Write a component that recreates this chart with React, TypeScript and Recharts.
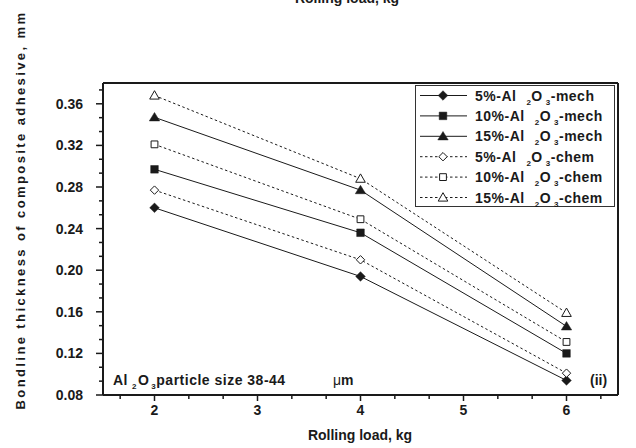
import React from "react";
import {
  LineChart,
  Line,
  XAxis,
  YAxis,
  Legend,
  ReferenceLine,
  Customized,
} from "recharts";

const FONT = "'Liberation Sans', Arial, sans-serif";
const INK = "#1a1a1a";

// rolling load (kg)
const loads = [2, 4, 6];

// bondline thickness (mm)
const mech5 = [0.26, 0.194, 0.094];
const mech10 = [0.297, 0.236, 0.12];
const mech15 = [0.347, 0.277, 0.146];
const chem5 = [0.277, 0.21, 0.101];
const chem10 = [0.321, 0.249, 0.131];
const chem15 = [0.368, 0.288, 0.159];

const xMajor = [2, 3, 4, 5, 6];
const yMajor = [0.08, 0.12, 0.16, 0.2, 0.24, 0.28, 0.32, 0.36];

// minor ticks split each major step in three
const xTicks = [1 + 2 / 3, ...xMajor.flatMap((v) => [v, v + 1 / 3, v + 2 / 3])].filter(
  (v) => v < 6.5,
);
const yTicks = yMajor.flatMap((v) => [v, v + 0.04 / 3, v + 0.08 / 3]).filter((v) => v < 0.38);

const data = loads.map((load, i) => ({
  load,
  m5: mech5[i],
  m10: mech10[i],
  m15: mech15[i],
  c5: chem5[i],
  c10: chem10[i],
  c15: chem15[i],
}));

type Shape = "diamond" | "square" | "triangle";

const SERIES: { key: string; pct: string; kind: string; shape: Shape; filled: boolean }[] = [
  { key: "m5", pct: "5%", kind: "mech", shape: "diamond", filled: true },
  { key: "m10", pct: "10%", kind: "mech", shape: "square", filled: true },
  { key: "m15", pct: "15%", kind: "mech", shape: "triangle", filled: true },
  { key: "c5", pct: "5%", kind: "chem", shape: "diamond", filled: false },
  { key: "c10", pct: "10%", kind: "chem", shape: "square", filled: false },
  { key: "c15", pct: "15%", kind: "chem", shape: "triangle", filled: false },
];

function markerPath(shape: Shape, cx: number, cy: number, filled: boolean) {
  if (shape === "diamond") {
    const r = filled ? 4.8 : 4.2;
    return `M${cx},${cy - r}L${cx + r},${cy}L${cx},${cy + r}L${cx - r},${cy}Z`;
  }
  if (shape === "square") {
    const r = filled ? 3.8 : 3.4;
    return `M${cx - r},${cy - r}H${cx + r}V${cy + r}H${cx - r}Z`;
  }
  const w = filled ? 5.2 : 4.8;
  return `M${cx},${cy - 4.8}L${cx + w},${cy + 3.6}L${cx - w},${cy + 3.6}Z`;
}

function Marker({ shape, filled, cx, cy }: { shape: Shape; filled: boolean; cx: number; cy: number }) {
  return (
    <path
      d={markerPath(shape, cx, cy, filled)}
      fill={filled ? INK : "#fff"}
      stroke={INK}
      strokeWidth={filled ? 0.5 : 1}
    />
  );
}

function XTick({ x, y, payload }: any) {
  const v = payload.value;
  const major = Math.abs(v - Math.round(v)) < 1e-6;
  return (
    <g>
      <line x1={x} x2={x} y1={y} y2={y + (major ? 6 : 4)} stroke={INK} strokeWidth={1.5} />
      {major && (
        <text x={x} y={y + 20} textAnchor="middle" fontFamily={FONT} fontWeight="bold" fontSize={14} fill={INK}>
          {Math.round(v)}
        </text>
      )}
    </g>
  );
}

function YTick({ x, y, payload }: any) {
  const v = payload.value;
  const major = yMajor.some((m) => Math.abs(m - v) < 1e-6);
  return (
    <g>
      <line x1={x - (major ? 7 : 4)} x2={x} y1={y} y2={y} stroke={INK} strokeWidth={1.5} />
      {major && (
        <text x={x - 20} y={y + 5} textAnchor="end" fontFamily={FONT} fontWeight="bold" fontSize={14} fill={INK}>
          {v.toFixed(2)}
        </text>
      )}
    </g>
  );
}

function Formula({ pct, kind }: { pct: string; kind: string }) {
  return (
    <>
      <tspan>{pct}-Al</tspan>
      <tspan dx={10} dy={4} fontSize={8}>2</tspan>
      <tspan dy={-4}>O</tspan>
      <tspan dx={3} dy={4} fontSize={8}>3</tspan>
      <tspan dy={-4}>-{kind}</tspan>
    </>
  );
}

function LegendBox() {
  return (
    <svg width={200} height={122} style={{ display: "block" }}>
      <rect x={0.5} y={0.5} width={199} height={121} fill="#fff" stroke="#333" strokeWidth={1} />
      {SERIES.map((s, i) => {
        const cy = 10.5 + i * 20.4;
        return (
          <g key={s.key}>
            <line
              x1={5}
              x2={52}
              y1={cy}
              y2={cy}
              stroke={INK}
              strokeWidth={1}
              strokeDasharray={s.filled ? undefined : "2.5 2.5"}
            />
            <Marker shape={s.shape} filled={s.filled} cx={28} cy={cy} />
            <text
              x={60}
              y={cy + 5}
              fontFamily={FONT}
              fontWeight="bold"
              fontSize={14}
              letterSpacing={0.5}
              fill={INK}
            >
              <Formula pct={s.pct} kind={s.kind} />
            </text>
          </g>
        );
      })}
    </svg>
  );
}

function Annotations() {
  return (
    <g fontFamily={FONT} fontWeight="bold" fill={INK}>
      <text x={347} y={2.5} textAnchor="middle" fontSize={14}>
        Rolling load, kg
      </text>
      <text x={360} y={440} textAnchor="middle" fontSize={14}>
        Rolling load, kg
      </text>
      <text
        transform="translate(25,210) rotate(-90)"
        textAnchor="middle"
        fontSize={13}
        letterSpacing={2.4}
      >
        Bondline thickness of composite adhesive, mm
      </text>
      <text x={113} y={385} fontSize={14} letterSpacing={0.5}>
        <tspan>Al</tspan>
        <tspan dx={4} dy={4} fontSize={8}>2</tspan>
        <tspan dx={1} dy={-4}>O</tspan>
        <tspan dx={2} dy={4} fontSize={8}>3</tspan>
        <tspan dx={0} dy={-4}>particle size 38-44</tspan>
      </text>
      <text x={333} y={385} fontSize={14}>
        <tspan fontWeight="normal">μ</tspan>
        <tspan>m</tspan>
      </text>
      <text x={590} y={385} fontSize={14}>
        (ii)
      </text>
    </g>
  );
}

export default function App() {
  return (
    <div style={{ position: "absolute", left: 0, top: 0, width: 636, height: 448, background: "#fff" }}>
      <LineChart width={636} height={448} data={data} margin={{ top: 83, right: 18, bottom: 23, left: 43 }}>
        <XAxis
          dataKey="load"
          type="number"
          domain={[1.5, 6.5]}
          ticks={xTicks}
          interval={0}
          allowDataOverflow
          height={30}
          tickSize={0}
          tickMargin={0}
          tickLine={false}
          tick={<XTick />}
          axisLine={{ stroke: INK, strokeWidth: 2 }}
        />
        <YAxis
          type="number"
          domain={[0.08, 0.38]}
          ticks={yTicks}
          interval={0}
          allowDataOverflow
          width={60}
          tickSize={0}
          tickMargin={0}
          tickLine={false}
          tick={<YTick />}
          axisLine={{ stroke: INK, strokeWidth: 2 }}
        />
        <ReferenceLine y={0.38} stroke={INK} strokeWidth={2} />
        <ReferenceLine x={6.5} stroke={INK} strokeWidth={2} />
        {SERIES.map((s) => (
          <Line
            key={s.key}
            dataKey={s.key}
            stroke={INK}
            strokeWidth={1}
            strokeDasharray={s.filled ? undefined : "2.5 2.5"}
            isAnimationActive={false}
            dot={(p: any) => (
              <Marker key={`${s.key}-${p.index}`} shape={s.shape} filled={s.filled} cx={p.cx} cy={p.cy} />
            )}
            activeDot={false}
          />
        ))}
        <Legend
          layout="vertical"
          align="center"
          verticalAlign="middle"
          content={() => <LegendBox />}
          wrapperStyle={{ position: "absolute", left: 415, top: 85, width: 200, height: 122 }}
        />
        <Customized component={Annotations} />
      </LineChart>
    </div>
  );
}
